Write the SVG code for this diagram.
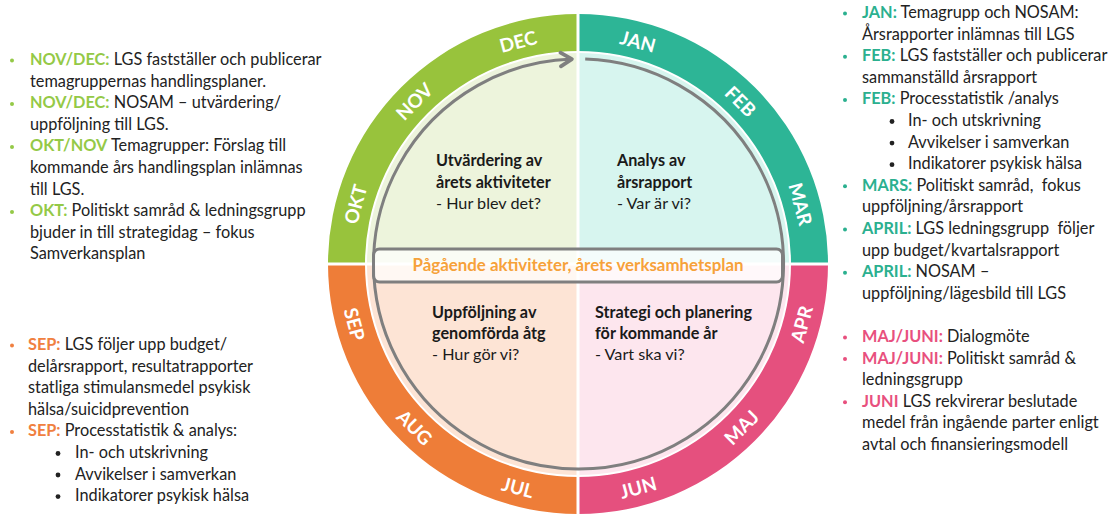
<svg xmlns="http://www.w3.org/2000/svg" width="1116" height="514" viewBox="0 0 1116 514">
<style>
.t{font-family:Lato,"Open Sans","Liberation Sans",sans-serif;font-size:16.3px;fill:#222}
.q{font-family:Lato,"Open Sans","Liberation Sans",sans-serif;font-size:16.2px;fill:#1a1a1a}
.b{font-weight:bold}
.m{font-family:Lato,"Open Sans","Liberation Sans",sans-serif;font-size:19px;font-weight:bold;fill:#fff;text-anchor:middle;dominant-baseline:central}
.lg{fill:#94c947;font-weight:bold}
.lt{fill:#2bb08f;font-weight:bold}
.lo{fill:#f08040;font-weight:bold}
.lp{fill:#e8507e;font-weight:bold}
.sep{stroke:#fff;stroke-width:3}
</style>
<defs>
<marker id="ah" markerUnits="userSpaceOnUse" markerWidth="20" markerHeight="20" viewBox="-12 -8 16 16" refX="0" refY="0" orient="auto" overflow="visible">
<path d="M-9,-5.5 L0,0 L-9,5.5" fill="none" stroke="#7f7f7f" stroke-width="3" stroke-linecap="round" stroke-linejoin="round"/>
</marker>
</defs>

<g id="quadrant-tl">
<path d="M367,264 A211,211 0 0 1 578,53 L578,264 Z" fill="#edf4dc"/>
<path d="M328,264 A250,250 0 0 1 578,14 L578,51 A213,213 0 0 0 365,264 Z" fill="#98c33c"/>
<text class="m" transform="translate(355,204) rotate(-75)">OKT</text>
<text class="m" transform="translate(414,101) rotate(-45)">NOV</text>
<text class="m" transform="translate(518,41) rotate(-15)">DEC</text>
<text class="q"><tspan class="b" x="436" y="166">Utvärdering av</tspan><tspan class="b" x="436" y="188">årets aktiviteter</tspan><tspan x="436" y="209">- Hur blev det?</tspan></text>
</g>

<g id="quadrant-tr">
<path d="M578,53 A211,211 0 0 1 789,264 L578,264 Z" fill="#d7f5ef"/>
<path d="M578,14 A250,250 0 0 1 828,264 L791,264 A213,213 0 0 0 578,51 Z" fill="#2db596"/>
<text class="m" transform="translate(638,41) rotate(15)">JAN</text>
<text class="m" transform="translate(741,101) rotate(45)">FEB</text>
<text class="m" transform="translate(801,204) rotate(75)">MAR</text>
<text class="q"><tspan class="b" x="617" y="166">Analys av</tspan><tspan class="b" x="617" y="188">årsrapport</tspan><tspan x="617" y="209">- Var är vi?</tspan></text>
</g>

<g id="quadrant-br">
<path d="M789,264 A211,211 0 0 1 578,475 L578,264 Z" fill="#fde6ee"/>
<path d="M828,264 A250,250 0 0 1 578,514 L578,477 A213,213 0 0 0 791,264 Z" fill="#e5507e"/>
<text class="m" transform="translate(801,324) rotate(-75)">APR</text>
<text class="m" transform="translate(741,427) rotate(-45)">MAJ</text>
<text class="m" transform="translate(638,487) rotate(-15)">JUN</text>
<text class="q"><tspan class="b" x="595" y="318">Strategi och planering</tspan><tspan class="b" x="595" y="339">för kommande år</tspan><tspan x="595" y="360">- Vart ska vi?</tspan></text>
</g>

<g id="quadrant-bl">
<path d="M578,475 A211,211 0 0 1 367,264 L578,264 Z" fill="#fde4d5"/>
<path d="M578,514 A250,250 0 0 1 328,264 L365,264 A213,213 0 0 0 578,477 Z" fill="#ee7d38"/>
<text class="m" transform="translate(518,487) rotate(15)">JUL</text>
<text class="m" transform="translate(415,427) rotate(45)">AUG</text>
<text class="m" transform="translate(355,324) rotate(75)">SEP</text>
<text class="q"><tspan class="b" x="432" y="318">Uppföljning av</tspan><tspan class="b" x="432" y="339">genomförda åtg</tspan><tspan x="432" y="360">- Hur gör vi?</tspan></text>
</g>

<g id="separators">
<line class="sep" x1="578" y1="12" x2="578" y2="514"/>
<line class="sep" x1="326" y1="264" x2="830" y2="264"/>
</g>

<g id="connectors">
<path d="M585.2,59.1 A205,205 0 1 1 571.9,59.1" fill="none" stroke="#7f7f7f" stroke-width="3" marker-end="url(#ah)"/>
</g>

<g id="band">
<rect x="373.5" y="249" width="409" height="33" rx="6" fill="#fff" fill-opacity="0.72" stroke="#7f7f7f" stroke-width="3"/>
<text x="578" y="271" text-anchor="middle" textLength="331" lengthAdjust="spacingAndGlyphs" font-family="Lato,'Open Sans','Liberation Sans',sans-serif" font-size="16.5px" font-weight="bold" fill="#f6a23a">Pågående aktiviteter, årets verksamhetsplan</text>
</g>

<g id="notes-left-top">
<circle cx="12" cy="60.5" r="2" fill="#94c947"/>
<circle cx="12" cy="104" r="2" fill="#94c947"/>
<circle cx="12" cy="147" r="2" fill="#94c947"/>
<circle cx="12" cy="212" r="2" fill="#94c947"/>
<text class="t"><tspan x="30" y="65"><tspan class="lg">NOV/DEC:</tspan> LGS fastställer och publicerar</tspan><tspan x="30" y="86.6">temagruppernas handlingsplaner.</tspan><tspan x="30" y="108.2"><tspan class="lg">NOV/DEC:</tspan> NOSAM – utvärdering/</tspan><tspan x="30" y="129.8">uppföljning till LGS.</tspan><tspan x="30" y="151.4"><tspan class="lg">OKT/NOV</tspan> Temagrupper: Förslag till</tspan><tspan x="30" y="173">kommande års handlingsplan inlämnas</tspan><tspan x="30" y="194.6">till LGS.</tspan><tspan x="30" y="216.2"><tspan class="lg">OKT:</tspan> Politiskt samråd &amp; ledningsgrupp</tspan><tspan x="30" y="237.8">bjuder in till strategidag – fokus</tspan><tspan x="30" y="259.4">Samverkansplan</tspan></text>
</g>

<g id="notes-left-bottom">
<circle cx="12" cy="345.5" r="2" fill="#f08040"/>
<circle cx="12" cy="432" r="2" fill="#f08040"/>
<circle cx="58" cy="453.5" r="2.4" fill="#222"/>
<circle cx="58" cy="475" r="2.4" fill="#222"/>
<circle cx="58" cy="496.6" r="2.4" fill="#222"/>
<text class="t"><tspan x="28" y="350"><tspan class="lo">SEP:</tspan> LGS följer upp budget/</tspan><tspan x="28" y="371.6">delårsrapport, resultatrapporter</tspan><tspan x="28" y="393.2">statliga stimulansmedel psykisk</tspan><tspan x="28" y="414.8">hälsa/suicidprevention</tspan><tspan x="28" y="436.4"><tspan class="lo">SEP:</tspan> Processtatistik &amp; analys:</tspan><tspan x="75" y="458">In- och utskrivning</tspan><tspan x="75" y="479.6">Avvikelser i samverkan</tspan><tspan x="75" y="501.2">Indikatorer psykisk hälsa</tspan></text>
</g>

<g id="notes-right">
<circle cx="845" cy="13.5" r="2" fill="#2bb08f"/>
<circle cx="845" cy="56.7" r="2" fill="#2bb08f"/>
<circle cx="845" cy="99.9" r="2" fill="#2bb08f"/>
<circle cx="892" cy="121.5" r="2.4" fill="#222"/>
<circle cx="892" cy="143.1" r="2.4" fill="#222"/>
<circle cx="892" cy="164.7" r="2.4" fill="#222"/>
<circle cx="845" cy="186.3" r="2" fill="#2bb08f"/>
<circle cx="845" cy="229.5" r="2" fill="#2bb08f"/>
<circle cx="845" cy="272.7" r="2" fill="#2bb08f"/>
<circle cx="845" cy="337.5" r="2" fill="#e8507e"/>
<circle cx="845" cy="359.1" r="2" fill="#e8507e"/>
<circle cx="845" cy="402.3" r="2" fill="#e8507e"/>
<text class="t" xml:space="preserve"><tspan x="862" y="18"><tspan class="lt">JAN:</tspan> Temagrupp och NOSAM:</tspan><tspan x="862" y="39.6">Årsrapporter inlämnas till LGS</tspan><tspan x="862" y="61.2"><tspan class="lt">FEB:</tspan> LGS fastställer och publicerar</tspan><tspan x="862" y="82.8">sammanställd årsrapport</tspan><tspan x="862" y="104.4"><tspan class="lt">FEB:</tspan> Processtatistik /analys</tspan><tspan x="908" y="126">In- och utskrivning</tspan><tspan x="908" y="147.6">Avvikelser i samverkan</tspan><tspan x="908" y="169.2">Indikatorer psykisk hälsa</tspan><tspan x="862" y="190.8"><tspan class="lt">MARS:</tspan> Politiskt samråd,  fokus</tspan><tspan x="862" y="212.4">uppföljning/årsrapport</tspan><tspan x="862" y="234"><tspan class="lt">APRIL:</tspan> LGS ledningsgrupp  följer</tspan><tspan x="862" y="255.6">upp budget/kvartalsrapport</tspan><tspan x="862" y="277.2"><tspan class="lt">APRIL:</tspan> NOSAM –</tspan><tspan x="862" y="298.8">uppföljning/lägesbild till LGS</tspan><tspan x="862" y="342"><tspan class="lp">MAJ/JUNI:</tspan> Dialogmöte</tspan><tspan x="862" y="363.6"><tspan class="lp">MAJ/JUNI:</tspan> Politiskt samråd &amp;</tspan><tspan x="862" y="385.2">ledningsgrupp</tspan><tspan x="862" y="406.8"><tspan class="lp">JUNI</tspan> LGS rekvirerar beslutade</tspan><tspan x="862" y="428.4">medel från ingående parter enligt</tspan><tspan x="862" y="450">avtal och finansieringsmodell</tspan></text>
</g>
</svg>
